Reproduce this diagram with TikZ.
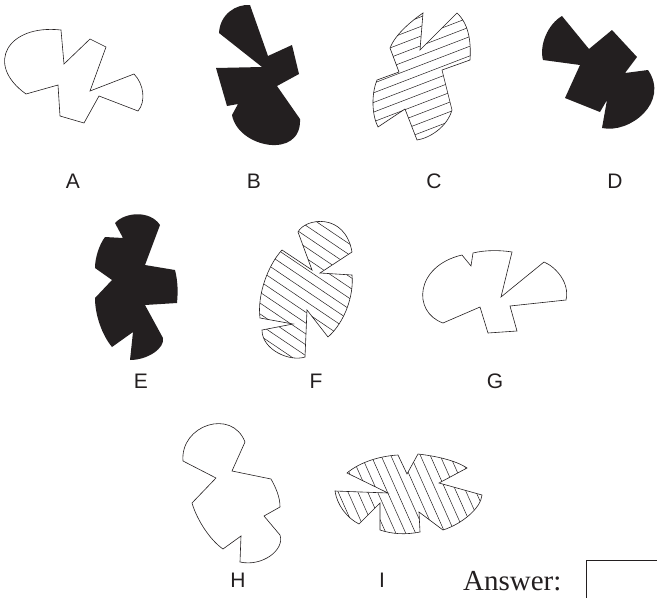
\documentclass[tikz,border=0pt]{standalone}
\usepackage{fontspec}
\setmainfont{Liberation Serif}
\newfontfamily\labelfont{Liberation Sans}
\definecolor{ink}{HTML}{231F20}
\begin{document}
\begin{tikzpicture}[x=1pt,y=-1pt,
  outline/.style={draw=ink,line width=0.6pt,line join=miter},
  blackfill/.style={fill=ink,draw=none},
  hatchline/.style={draw=ink,line width=0.5pt},
  lbl/.style={font=\labelfont\fontsize{21}{21}\selectfont,text=ink,anchor=base,inner sep=0pt}]
\useasboundingbox (0,0) rectangle (657,598);

% ---------- A (outline) ----------
\draw[outline] (61,30) .. controls (8,24) and (-16,64) .. (26,94) -- (58,85) -- (60,116) -- (84,123) -- (99,96)
  -- (138,111) .. controls (146,102) and (144,84) .. (134,74) -- (90,91) -- (106,47) -- (90,39) -- (64,64) -- cycle;

% ---------- B (black) ----------
\fill[blackfill] (250,5) .. controls (236,4) and (220,14) .. (219,33) -- (262,67) -- (216,68) -- (227,106)
  -- (238,104) -- (232,115) .. controls (238,148) and (302,160) .. (300,119) -- (277,86) -- (299,74)
  -- (292,45) -- (268,56) -- cycle;

% ---------- C (hatched) ----------
\begin{scope}
\clip (423,13) .. controls (410,22) and (395,35) .. (390,48) -- (399,72) -- (377,80)
  .. controls (371,95) and (372,115) .. (378,127) -- (405,109) -- (417,140)
  .. controls (430,138) and (447,127) .. (452,110) -- (442,70) -- (470,60)
  .. controls (471,45) and (470,25) .. (457,13) -- (420,50) -- cycle;
\begin{scope}[shift={(420,75)},rotate=21]
\foreach \k in {-12,...,12} \draw[hatchline] (-120,\k*9) -- (120,\k*9);
\end{scope}
\end{scope}
\draw[outline] (423,13) .. controls (410,22) and (395,35) .. (390,48) -- (399,72) -- (377,80)
  .. controls (371,95) and (372,115) .. (378,127) -- (405,109) -- (417,140)
  .. controls (430,138) and (447,127) .. (452,110) -- (442,70) -- (470,60)
  .. controls (471,45) and (470,25) .. (457,13) -- (420,50) -- cycle;

% ---------- D (black) ----------
\fill[blackfill] (562,16) .. controls (548,24) and (539,45) .. (543,60) -- (580,65) -- (565,98) -- (600,112)
  -- (607,100) -- (602,128) .. controls (630,134) and (670,102) .. (648,70) -- (625,73) -- (637,57)
  -- (612,30) -- (589,49) -- cycle;

% ---------- E (black) ----------
\fill[blackfill] (115,223) .. controls (125,212) and (150,210) .. (160,225) -- (145,265) -- (175,270)
  .. controls (178,282) and (178,292) .. (177,303) -- (145,305) -- (163,338)
  .. controls (165,348) and (148,360) .. (130,360) -- (133,332) -- (112,347)
  .. controls (102,335) and (95,315) .. (95,298) -- (112,280) -- (95,268)
  .. controls (95,258) and (99,245) .. (105,237) -- (123,238) -- cycle;

% ---------- F (hatched) ----------
\begin{scope}
\clip (298,232) .. controls (305,218) and (345,212) .. (352,252) -- (320,273) -- (352,275)
  .. controls (354,295) and (345,322) .. (328,337) -- (307,310) -- (305,357)
  .. controls (290,362) and (262,350) .. (262,330) -- (293,324) -- (260,318)
  .. controls (257,295) and (268,265) .. (282,250) -- (312,270) -- cycle;
\begin{scope}[shift={(305,290)},rotate=-34]
\foreach \k in {-12,...,12} \draw[hatchline] (-120,\k*9) -- (120,\k*9);
\end{scope}
\end{scope}
\draw[outline] (298,232) .. controls (305,218) and (345,212) .. (352,252) -- (320,273) -- (352,275)
  .. controls (354,295) and (345,322) .. (328,337) -- (307,310) -- (305,357)
  .. controls (290,362) and (262,350) .. (262,330) -- (293,324) -- (260,318)
  .. controls (257,295) and (268,265) .. (282,250) -- (312,270) -- cycle;

% ---------- G (outline) ----------
\draw[outline] (462,255) -- (471,266) -- (473,253) .. controls (485,250) and (500,250) .. (512,252)
  -- (501,297) -- (544,262) .. controls (556,267) and (570,283) .. (566,300) -- (510,306)
  -- (517,331) -- (488,333) -- (480,307) -- (443,323)
  .. controls (412,312) and (415,266) .. (462,255) -- cycle;

% ---------- H (outline) ----------
\draw[outline] (183,461) .. controls (180,425) and (232,408) .. (245,442) -- (232,471) -- (271,479)
  .. controls (276,488) and (280,497) .. (280,507) -- (264,516) -- (280,535)
  .. controls (285,550) and (262,567) .. (240,562) -- (241,536) -- (223,549)
  .. controls (210,540) and (197,520) .. (192,503) -- (216,478) -- cycle;

% ---------- I (hatched) ----------
\begin{scope}
\clip (347,473) .. controls (360,462) and (380,456) .. (398,455) -- (407,474) -- (418,454)
  .. controls (435,456) and (455,460) .. (467,468) -- (439,483) -- (482,495)
  .. controls (481,508) and (462,524) .. (443,530) -- (419,512) -- (420,532)
  .. controls (405,535) and (392,534) .. (380,530) -- (380,503) -- (359,524)
  .. controls (347,518) and (337,505) .. (335,491) -- (388,493) -- cycle;
\begin{scope}[shift={(408,494)},rotate=-66]
\foreach \k in {-12,...,12} \draw[hatchline] (-120,\k*9) -- (120,\k*9);
\end{scope}
\end{scope}
\draw[outline] (347,473) .. controls (360,462) and (380,456) .. (398,455) -- (407,474) -- (418,454)
  .. controls (435,456) and (455,460) .. (467,468) -- (439,483) -- (482,495)
  .. controls (481,508) and (462,524) .. (443,530) -- (419,512) -- (420,532)
  .. controls (405,535) and (392,534) .. (380,530) -- (380,503) -- (359,524)
  .. controls (347,518) and (337,505) .. (335,491) -- (388,493) -- cycle;

% ---------- labels ----------
\node[lbl] (lA) at (73,188) {A};
\node[lbl] (lB) at (254,188) {B};
\node[lbl] (lC) at (434,188) {C};
\node[lbl] (lD) at (615,188) {D};
\node[lbl] (lE) at (141,388) {E};
\node[lbl] (lF) at (316,388) {F};
\node[lbl] (lG) at (495,388) {G};
\node[lbl] (lH) at (238,587) {H};
\node[lbl] (lI) at (382,587) {I};

% ---------- answer ----------
\node[anchor=base west,inner sep=0pt,text=ink,font=\fontsize{29}{29}\selectfont] (ans) at (463,590) {Answer:};
\draw[ink,line width=0.8pt] (586,598) -- (586,560) -- (657,560);
\end{tikzpicture}
\end{document}
